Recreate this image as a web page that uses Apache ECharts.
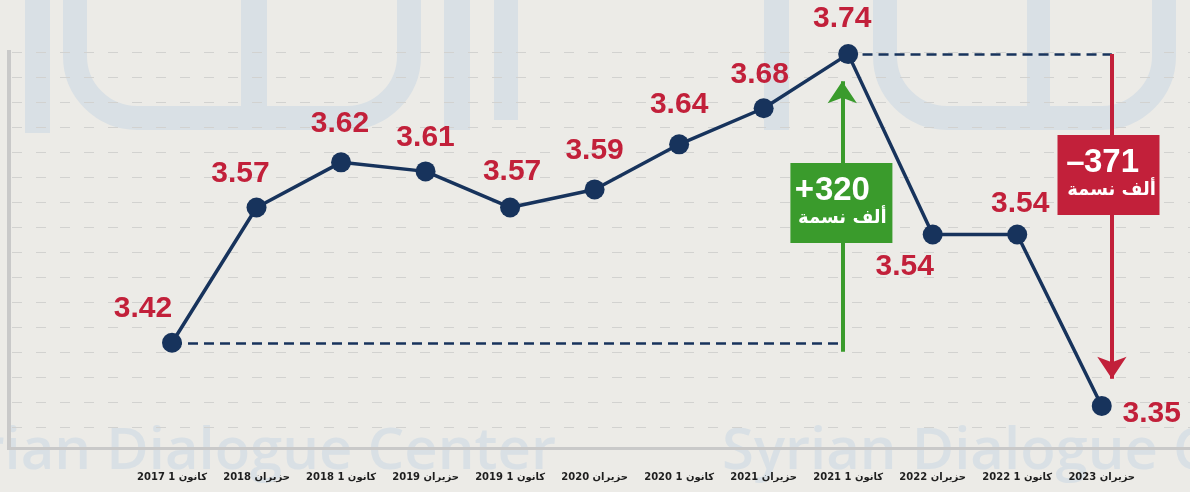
<!DOCTYPE html>
<html><head><meta charset="utf-8">
<script src="https://cdn.jsdelivr.net/npm/echarts@6/dist/echarts.min.js"></script>
<style>html,body{margin:0;padding:0;background:#ecebe7;overflow:hidden}#c{width:1190px;height:492px;}</style>
</head><body><div id="c"></div>
<script>
// ---- data ----
const categories = ['كانون 1 2017','حزيران 2018','كانون 1 2018','حزيران 2019','كانون 1 2019','حزيران 2020','كانون 1 2020','حزيران 2021','كانون 1 2021','حزيران 2022','كانون 1 2022','حزيران 2023'];
const population = [3.42,3.57,3.62,3.61,3.57,3.59,3.64,3.68,3.74,3.54,3.54,3.35];
const changeSigns = ['+','–'];
const changeValues = ['320','371'];
const changeUnit = 'ألف نسمة';

// ---- layout / style ----
const NAVY = '#17335c', RED = '#c2203a', GREEN = '#3a9b2c', WM = '#d9e0e5';
const labelOffsets = [[-29,-34],[-16,-34],[-1,-39],[0,-34],[2,-36],[0,-39],[0,-40],[-4,-34],[-6,-35],[-28,32],[3,-31],[50,8]];
const boxCoords = [[7.92,3.575],[11.08,3.606]];
const boxColors = [GREEN, RED];
const digitOffsets = [[1,0],[3,0]];
const signOffsets = [[-37,-12],[-33,-12]];
const chart = echarts.init(document.getElementById('c'), null, {renderer:'canvas'});

const dashed = {color: NAVY, type: [10, 6], width: 2.5};
const numFont = {fontSize:33, fontWeight:'bold', color:'#fff', fontFamily:'"Liberation Sans", Arial'};
const boxRich = {
  a: Object.assign({lineHeight:30}, numFont),
  b: {fontSize:18, fontWeight:'bold', color:'#fff', lineHeight:24, fontFamily:'"DejaVu Sans"'}
};
const boxItems = [];
[0,1].forEach(i => {
  boxItems.push({coord:boxCoords[i], symbol:'rect', symbolSize:[102,80], itemStyle:{color:boxColors[i]},
    label:{show:true, position:'inside', offset:digitOffsets[i], formatter:'{a|' + changeValues[i] + '}\n{b|' + changeUnit + '}', rich:boxRich}});
  boxItems.push({coord:boxCoords[i], symbol:'rect', symbolSize:1, itemStyle:{color:'rgba(0,0,0,0)'},
    label:Object.assign({show:true, position:'inside', offset:signOffsets[i], formatter:changeSigns[i]}, numFont)});
});
const wmBar = (x, w, h) => ({type:'rect', z:-20, shape:{x:x, y:0, width:w, height:h}, style:{fill:WM}});
const wmRing = (x, w) => ({type:'rect', z:-20, shape:{x:x, y:-80, width:w, height:198, r:62}, style:{fill:'none', stroke:WM, lineWidth:24}});
const option = {
  animation: false,
  backgroundColor: '#ecebe7',
  graphic: [
    wmBar(25, 25, 133),
    wmRing(75, 334),
    wmBar(241, 26, 130),
    wmBar(444, 26, 130),
    wmBar(494, 24, 120),
    wmBar(764, 25, 130),
    wmRing(885, 279),
    wmBar(1027, 23, 110),
    {type:'rect', z:-15, shape:{x:7,y:50,width:4,height:400}, style:{fill:'#c9c9c9'}},
    {type:'rect', z:-15, shape:{x:7,y:447,width:1183,height:3}, style:{fill:'#c9c9c9'}},
    {type:'text', z:-18, x:556, y:452, style:{text:'Syrian Dialogue Center', font:'600 58px "Open Sans"', fill:WM, textAlign:'right', textVerticalAlign:'middle'}},
    {type:'text', z:-18, x:722, y:452, style:{text:'Syrian Dialogue Center', font:'600 58px "Open Sans"', fill:WM, textAlign:'left', textVerticalAlign:'middle'}}
  ],
  grid: [
    {left:172, right:46, top:0, bottom:41},
    {left:12, right:0, top:52, height:375}
  ],
  xAxis: [
    {type:'value', gridIndex:0, min:0, max:11.5, interval:1,
     axisLine:{show:false}, axisTick:{show:false}, splitLine:{show:false},
     axisLabel:{formatter: v => categories[v] ?? '', margin:21, fontSize:10, fontWeight:'bold', color:'#1e1e1e', fontFamily:'"DejaVu Sans", sans-serif', showMaxLabel:false}},
    {type:'value', gridIndex:1, min:0, max:1, show:false}
  ],
  yAxis: [
    {type:'value', gridIndex:0, min:3.3, max:3.8, show:false},
    {type:'value', gridIndex:1, min:0, max:15, interval:1,
     axisLine:{show:false}, axisTick:{show:false}, axisLabel:{show:false},
     splitLine:{show:true, lineStyle:{color:'#d2d2d0', type:[10,14], width:1.2}}}
  ],
  series: [{
    type:'line', xAxisIndex:0, yAxisIndex:0, clip:false, z:4,
    data: population.map((v,i)=>({value:[i,v], label:{offset:labelOffsets[i]}})),
    symbol:'circle', symbolSize:20,
    lineStyle:{color:NAVY, width:3.5}, itemStyle:{color:NAVY},
    label:{show:true, position:'inside', formatter: p => p.value[1].toFixed(2),
      fontSize:30, fontWeight:'bold', color:RED, fontFamily:'"Liberation Sans", Arial, sans-serif'},
    markLine:{silent:true, animation:false, z:3, label:{show:false}, symbol:['none','none'], symbolSize:20,
      data:[
        [{coord:[0,population[0]], lineStyle:dashed},{coord:[7.88,population[0]], lineStyle:dashed}],
        [{coord:[8.17,population[8]], lineStyle:dashed},{coord:[11.12,population[8]], lineStyle:dashed}],
        [{coord:[7.93,population[0]-0.01], symbol:'none', lineStyle:{color:GREEN,width:4,type:'solid'}},
         {coord:[7.93,population[8]-0.03], symbol:'arrow', symbolSize:22, lineStyle:{color:GREEN,width:4,type:'solid'}}],
        [{coord:[11.12,population[8]], symbol:'none', lineStyle:{color:RED,width:4,type:'solid'}},
         {coord:[11.12,population[11]+0.03], symbol:'arrow', symbolSize:22, lineStyle:{color:RED,width:4,type:'solid'}}]
      ]},
    markPoint:{silent:true, animation:false, z:10, data: boxItems}
  }]
};
chart.setOption(option);
</script></body></html>
